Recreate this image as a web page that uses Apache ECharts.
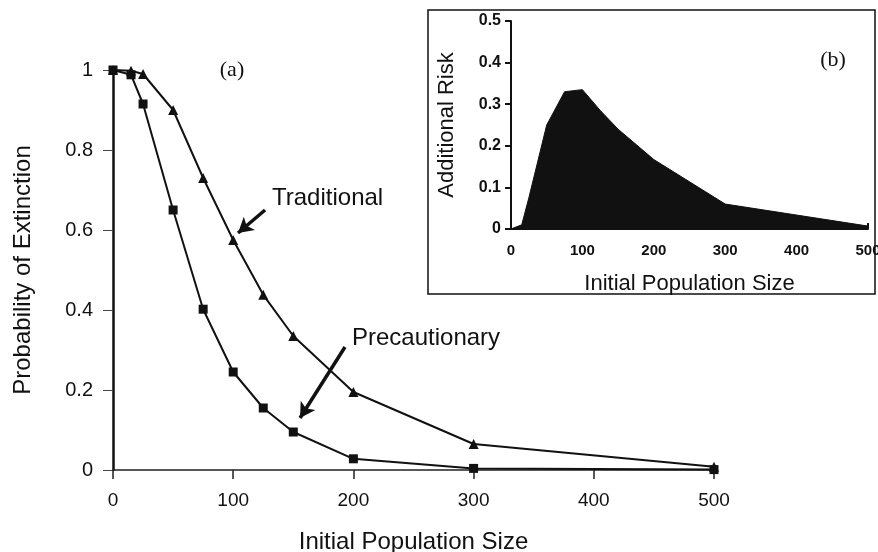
<!DOCTYPE html>
<html>
<head>
<meta charset="utf-8">
<script src="https://cdn.jsdelivr.net/npm/echarts@6/dist/echarts.min.js"></script>
<style>
  html, body { margin: 0; padding: 0; background: #fff; }
  #chart { width: 878px; height: 552px; }
</style>
</head>
<body>
<div id="chart"></div>
<script>
  // Panel (a): probability of extinction vs initial population size
  var popSizes = [0, 15, 25, 50, 75, 100, 125, 150, 200, 300, 500];
  var traditional = [1.0, 0.998, 0.99, 0.90, 0.73, 0.575, 0.438, 0.335, 0.195, 0.065, 0.008];
  var precautionary = [1.0, 0.988, 0.915, 0.65, 0.402, 0.245, 0.155, 0.095, 0.028, 0.004, 0.001];
  // Panel (b): additional risk
  var additionalRisk = [0, 0.01, 0.075, 0.25, 0.33, 0.335, 0.285, 0.24, 0.167, 0.06, 0.007];

  // arrows pointing at the curves, [from, to] in data units
  var tradArrow = [[126.5, 0.65], [104, 0.5925]];
  var precArrow = [[193, 0.3075], [155.6, 0.13]];

  var SANS = "Liberation Sans, Arial, Helvetica, sans-serif";
  var SERIF = "Liberation Serif, Times New Roman, serif";

  function pairs(xs, ys) {
    return xs.map(function (x, i) { return [x, ys[i]]; });
  }

  function arrowLine(a) {
    return {
      silent: true,
      symbol: ["none", "arrow"],
      symbolSize: [13, 15],
      label: { show: false },
      lineStyle: { color: "#111", width: 3.5, type: "solid" },
      data: [[{ coord: a[0] }, { coord: a[1] }]]
    };
  }

  var chart = echarts.init(document.getElementById("chart"), null, { renderer: "canvas" });
  chart.setOption({
    animation: false,
    backgroundColor: "#fff",
    textStyle: { fontFamily: SANS },
    grid: [
      { left: 113, right: 164, top: 70, bottom: 82, outerBoundsMode: "none", containLabel: false },
      { left: 511, right: 10, top: 21, bottom: 323, outerBoundsMode: "none", containLabel: false }
    ],
    xAxis: [
      {
        gridIndex: 0, type: "value", min: 0, max: 500, interval: 100,
        name: "Initial Population Size", nameLocation: "middle", nameGap: 60,
        nameTextStyle: { fontSize: 24, color: "#111", fontFamily: SANS },
        axisLine: { lineStyle: { color: "#222", width: 1.5 } },
        axisTick: { length: 9, lineStyle: { color: "#222", width: 1.5 } },
        axisLabel: { fontSize: 19, color: "#111", margin: 21 },
        splitLine: { show: false }
      },
      {
        gridIndex: 1, type: "value", min: 0, max: 500, interval: 100,
        name: "Initial Population Size", nameLocation: "middle", nameGap: 44,
        nameTextStyle: { fontSize: 22, color: "#111", fontFamily: SANS },
        axisLine: { lineStyle: { color: "#111", width: 2 } },
        axisTick: { inside: true, length: 6, lineStyle: { color: "#111", width: 2 } },
        axisLabel: { fontSize: 15, fontWeight: "bold", color: "#111", margin: 14 },
        splitLine: { show: false }
      }
    ],
    yAxis: [
      {
        gridIndex: 0, type: "value", min: 0, max: 1, interval: 0.2,
        name: "Probability of Extinction", nameLocation: "middle", nameGap: 78,
        nameTextStyle: { fontSize: 24, color: "#111", fontFamily: SANS },
        axisLine: { show: true, lineStyle: { color: "#111", width: 2.5 } },
        axisTick: { show: true, length: 10, lineStyle: { color: "#444", width: 1 } },
        axisLabel: { fontSize: 20, color: "#111", margin: 20 },
        splitLine: { show: false }
      },
      {
        gridIndex: 1, type: "value", min: 0, max: 0.5, interval: 0.1,
        name: "Additional Risk", nameLocation: "middle", nameGap: 53,
        nameTextStyle: { fontSize: 22, color: "#111", fontFamily: SANS },
        axisLine: { show: true, lineStyle: { color: "#111", width: 2 } },
        axisTick: { show: true, length: 6, lineStyle: { color: "#111", width: 2 } },
        axisLabel: { fontSize: 16, fontWeight: "bold", color: "#111", margin: 10 },
        splitLine: { show: false }
      }
    ],
    series: [
      {
        name: "Traditional", type: "line", xAxisIndex: 0, yAxisIndex: 0,
        data: pairs(popSizes, traditional),
        symbol: "triangle", symbolSize: 10, showAllSymbol: true,
        lineStyle: { color: "#111", width: 2 },
        itemStyle: { color: "#111" },
        markLine: arrowLine(tradArrow),
        z: 3
      },
      {
        name: "Precautionary", type: "line", xAxisIndex: 0, yAxisIndex: 0,
        data: pairs(popSizes, precautionary),
        symbol: "rect", symbolSize: 9, showAllSymbol: true,
        lineStyle: { color: "#111", width: 2 },
        itemStyle: { color: "#111" },
        markLine: arrowLine(precArrow),
        z: 4
      },
      {
        name: "Additional Risk", type: "line", xAxisIndex: 1, yAxisIndex: 1,
        data: pairs(popSizes, additionalRisk),
        symbol: "none",
        lineStyle: { color: "#111", width: 1 },
        areaStyle: { color: "#111", opacity: 1 }
      }
    ],
    graphic: [
      {
        type: "rect", shape: { x: 428, y: 10, width: 447, height: 284 },
        style: { fill: "none", stroke: "#111", lineWidth: 1.5 }, z: 0
      },
      { type: "text", x: 232, y: 70, style: { text: "(a)", font: "22px " + SERIF, fill: "#111", align: "center", verticalAlign: "middle" } },
      { type: "text", x: 833, y: 60, style: { text: "(b)", font: "22px " + SERIF, fill: "#111", align: "center", verticalAlign: "middle" } },
      { type: "text", x: 272, y: 198, style: { text: "Traditional", font: "24px " + SANS, fill: "#111", align: "left", verticalAlign: "middle" } },
      { type: "text", x: 352, y: 338, style: { text: "Precautionary", font: "24px " + SANS, fill: "#111", align: "left", verticalAlign: "middle" } }
    ]
  });
</script>
</body>
</html>
